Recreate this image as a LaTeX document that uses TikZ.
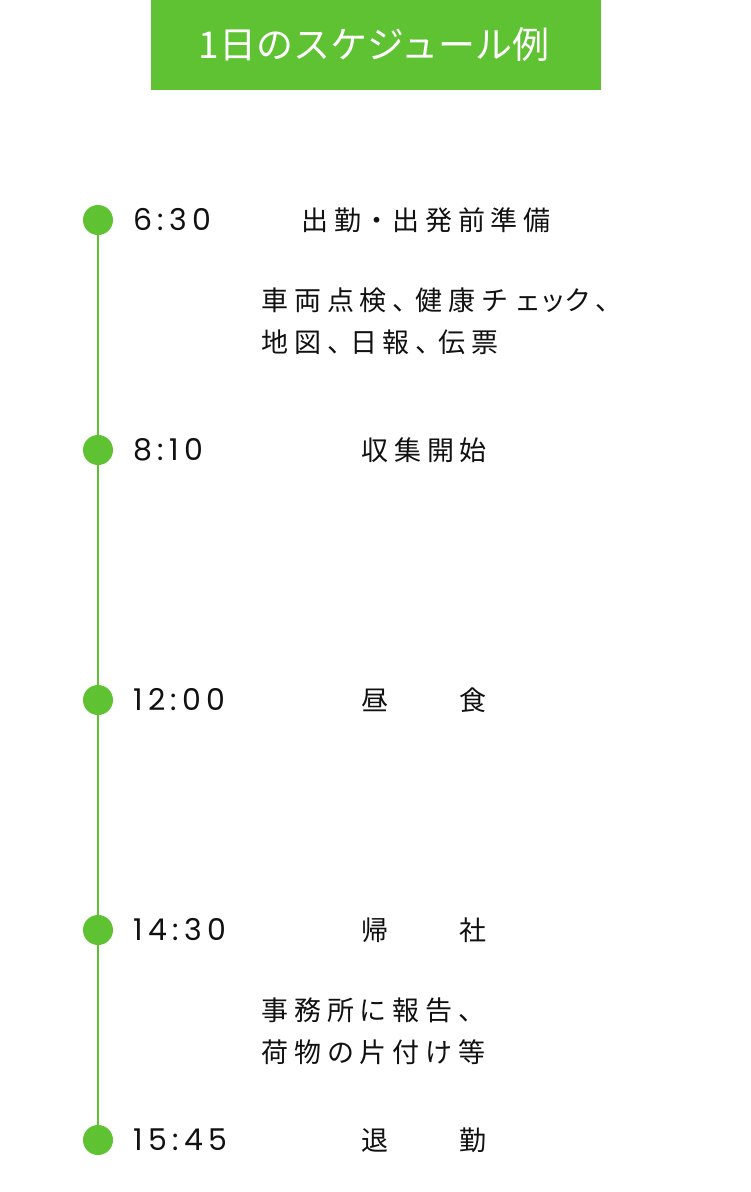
\documentclass[tikz,border=0pt]{standalone}
\usepackage{fontspec}
\usetikzlibrary{backgrounds}
\newfontfamily\jp{Noto Sans CJK JP}
\newfontfamily\jpsp[LetterSpace=22]{Noto Sans CJK JP}
\newfontfamily\num[LetterSpace=18]{Poppins}
\definecolor{tlgreen}{RGB}{95,194,50}
\definecolor{ink}{RGB}{17,17,17}
\newcommand{\nc}{、\kern-4pt}
\newcommand{\nk}{\kern-2pt}
\tikzset{
  titlebox/.style={fill=tlgreen, draw=none},
  dot/.style={circle, fill=tlgreen, minimum size=30pt, inner sep=0pt},
  timelab/.style={anchor=base west, inner sep=0pt, text=ink, font=\num\fontsize{30pt}{30pt}\selectfont},
  evtlab/.style={anchor=base west, inner sep=0pt, text=ink, font=\jpsp\fontsize{27pt}{42pt}\selectfont, align=left},
}
\begin{document}
\begin{tikzpicture}[x=1pt,y=-1pt]
\useasboundingbox (0,0) rectangle (751,1192);
% title
\node[titlebox, minimum width=450pt, minimum height=90pt, inner sep=0pt] (title) at (375.5,45) {};
\node[anchor=base, inner sep=0pt, text=white, font=\jp\fontsize{37pt}{37pt}\selectfont] (titletext) at (374,58) {1日のスケジュール例};
% dots
\node[dot] (d1) at (98,220) {};
\node[dot] (d2) at (98,450) {};
\node[dot] (d3) at (98,700) {};
\node[dot] (d4) at (98,930) {};
\node[dot] (d5) at (98,1140) {};
\begin{scope}[on background layer]
\fill[white] (0,0) rectangle (751,1192);
\draw[tlgreen, line width=2pt] (d1.center) -- (d2.center) -- (d3.center) -- (d4.center) -- (d5.center);
\end{scope}
% times
\node[timelab] (t1) at (133,230.5) {6:30};
\node[timelab] (t2) at (133,460.5) {8:10};
\node[timelab] (t3) at (133,710.5) {12:00};
\node[timelab] (t4) at (133,940.5) {14:30};
\node[timelab] (t5) at (133,1150.5) {15:45};
% events
\node[evtlab] (e1) at (301,230) {出勤\kern2pt・\kern2pt 出発前準備};
\node[evtlab] (e1b) at (261,352) {車両点検\nc 健康チェ\nk ッ\nk ク、\\地図\nc 日報\nc 伝票};
\node[evtlab] (e2) at (361,460) {収集開始};
\node[evtlab] (e3) at (361,710) {昼　　食};
\node[evtlab] (e4) at (361,940) {帰　　社};
\node[evtlab] (e4b) at (261,1062) {事務所に報告、\\荷物の片付け等};
\node[evtlab] (e5) at (361,1150) {退　　勤};
\end{tikzpicture}
\end{document}
